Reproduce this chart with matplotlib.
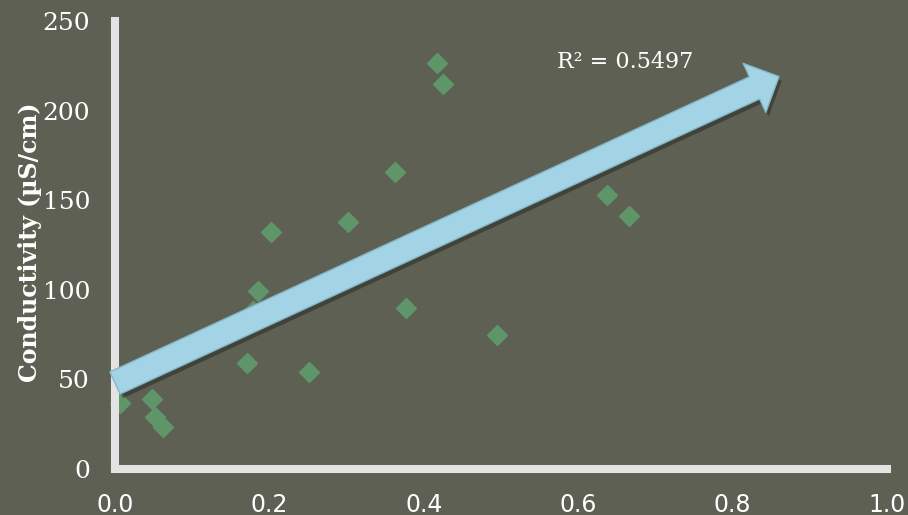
import numpy as np
import matplotlib
matplotlib.use('Agg')
import matplotlib.pyplot as plt
import matplotlib.patheffects as pe

# values
ratio = [0.006, 0.048, 0.052, 0.062, 0.171, 0.179, 0.185, 0.202, 0.251, 0.302,
         0.363, 0.377, 0.417, 0.425, 0.495, 0.637, 0.666]
conductivity = [37, 39, 29, 23.5, 59, 88, 99.5, 132.5, 54, 138,
                166, 90, 226.5, 214.8, 75, 153, 141]
trend_x = [0.0, 0.86]
trend_y = [48, 219]
r2_label = 'R² = 0.5497'
r2_pos = (0.573, 227)
xticks = [0.0, 0.2, 0.4, 0.6, 0.8, 1.0]
yticks = [0, 50, 100, 150, 200, 250]

bg = '#5e6053'
fig = plt.figure(figsize=(9.08, 5.15), dpi=100, facecolor=bg)
ax = fig.add_axes([0.1267, 0.0893, 0.8503, 0.8699])
ax.set_facecolor(bg)

ax.plot(ratio, conductivity, ls='none', marker='D', ms=10,
        color='#5f9669', mec='#5f9669', zorder=2, clip_on=False)

# big trend arrow
arr = ax.annotate('', xy=(trend_x[1], trend_y[1]), xytext=(trend_x[0], trend_y[0]),
                  arrowprops=dict(arrowstyle='simple,head_length=1.05,head_width=2.1,tail_width=0.95',
                                  mutation_scale=18.5, fc='#a2d4e5', ec='#86b8ca', lw=1,
                                  shrinkA=0, shrinkB=0),
                  zorder=4, annotation_clip=False)
arr.arrow_patch.set_path_effects([pe.SimplePatchShadow(offset=(2, -3), shadow_rgbFace='k', alpha=0.3),
                                  pe.Normal()])

ax.text(r2_pos[0], r2_pos[1], r2_label, ha='left', va='center',
        family='DejaVu Serif', fontsize=16, color='white')

ax.set_xlim(0, 1)
ax.set_ylim(0, 250)
ax.set_xticks(xticks)
ax.set_xticklabels([f'{t:.1f}' for t in xticks], family='DejaVu Sans', fontsize=17, color='white')
ax.set_yticks(yticks)
ax.set_yticklabels([str(t) for t in yticks], family='DejaVu Serif', fontsize=18, color='white')
ax.tick_params(axis='both', length=0)
ax.tick_params(axis='x', pad=17)
ax.tick_params(axis='y', pad=18)

for s in ['top', 'right']:
    ax.spines[s].set_visible(False)
for s in ['left', 'bottom']:
    ax.spines[s].set_color('#e3e3e3')
    ax.spines[s].set_linewidth(5.8)
    ax.spines[s].set_capstyle('projecting')

fig.text(30 / 908, 0.530, 'Conductivity (µS/cm)', rotation=90, ha='center', va='center',
         family='DejaVu Serif', fontweight='bold', fontsize=17, color='white')

fig.savefig('out.png', dpi=100, facecolor=bg)
